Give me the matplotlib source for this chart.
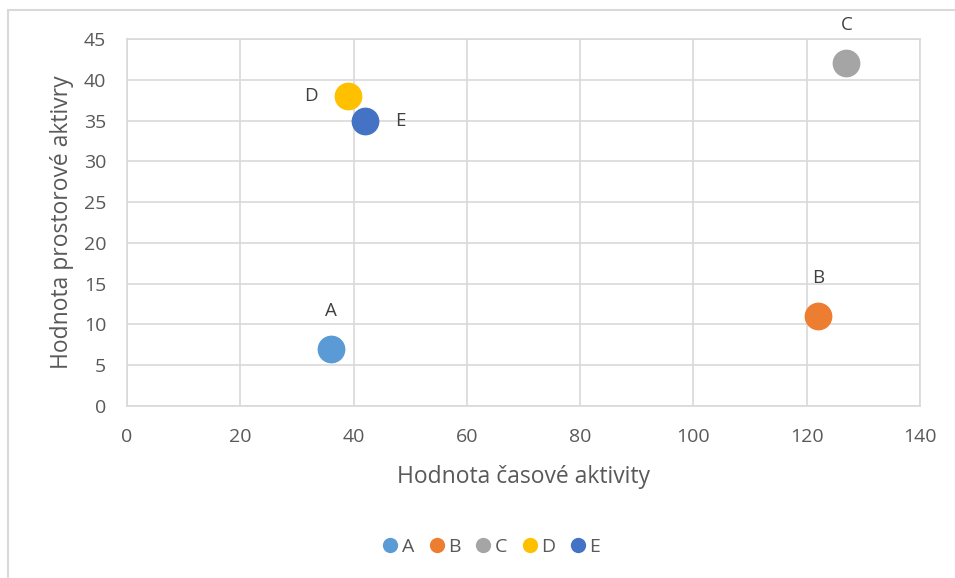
import matplotlib.pyplot as plt
from matplotlib.patches import Rectangle

# activity values for each subject
names = ["A", "B", "C", "D", "E"]
time_activity = [36, 122, 127, 39, 42]
space_activity = [7, 11, 42, 38, 35]
colors = ["#5B9BD5", "#ED7D31", "#A5A5A5", "#FFC000", "#4472C4"]
label_pos = ["above", "above", "above", "left", "right"]

plt.rcParams["font.family"] = ["Open Sans", "DejaVu Sans"]
text_color = "#595959"
grid_color = "#D9D9D9"

fig = plt.figure(figsize=(9.55, 5.78), dpi=100)
ax = fig.add_axes([127 / 955, 1 - 406 / 578, (920 - 127) / 955, (406 - 39) / 578])

offsets = {"above": (0, 21, "center", "bottom"),
           "left": (-22, 0, "right", "center"),
           "right": (22, 0, "left", "center")}

for n, x, y, c, pos in zip(names, time_activity, space_activity, colors, label_pos):
    ax.plot(x, y, "o", markersize=20, color=c, label=n, zorder=3, markeredgewidth=0)
    dx, dy, ha, va = offsets[pos]
    ax.annotate(n, (x, y), xytext=(dx, dy), textcoords="offset points",
                ha=ha, va=va, fontsize=13.5, color="#404040")

ax.set_xlim(0, 140)
ax.set_ylim(0, 45)
ax.set_xticks(range(0, 141, 20))
ax.set_yticks(range(0, 46, 5))
ax.grid(True, color=grid_color, linewidth=1.2)
ax.set_axisbelow(True)
for s in ax.spines.values():
    s.set_color(grid_color)
    s.set_linewidth(1.2)
ax.tick_params(length=0, labelsize=14, labelcolor=text_color)
ax.tick_params(axis="x", pad=16)
ax.tick_params(axis="y", pad=15)

ax.set_xlabel("Hodnota časové aktivity", fontsize=16.5, color=text_color, va="center")
ax.set_ylabel("Hodnota prostorové aktivry", fontsize=16.5, color=text_color, va="center")
ax.xaxis.set_label_coords(0.5, (406 - 477) / 367)
ax.yaxis.set_label_coords((62 - 127) / 793, 0.5)

ax.legend(loc="center", bbox_to_anchor=(491 / 955, 1 - 547 / 578),
          bbox_transform=fig.transFigure, ncol=5, frameon=False,
          fontsize=14, labelcolor=text_color, markerscale=0.55,
          handletextpad=0.15, columnspacing=0.7, handlelength=0.9)

# outer chart border
fig.patches.append(Rectangle((8 / 955, -0.1), 1.2, 1 - 10 / 578 + 0.1,
                             transform=fig.transFigure, fill=False,
                             edgecolor=grid_color, linewidth=1.5))

fig.savefig("out.png", dpi=100)
